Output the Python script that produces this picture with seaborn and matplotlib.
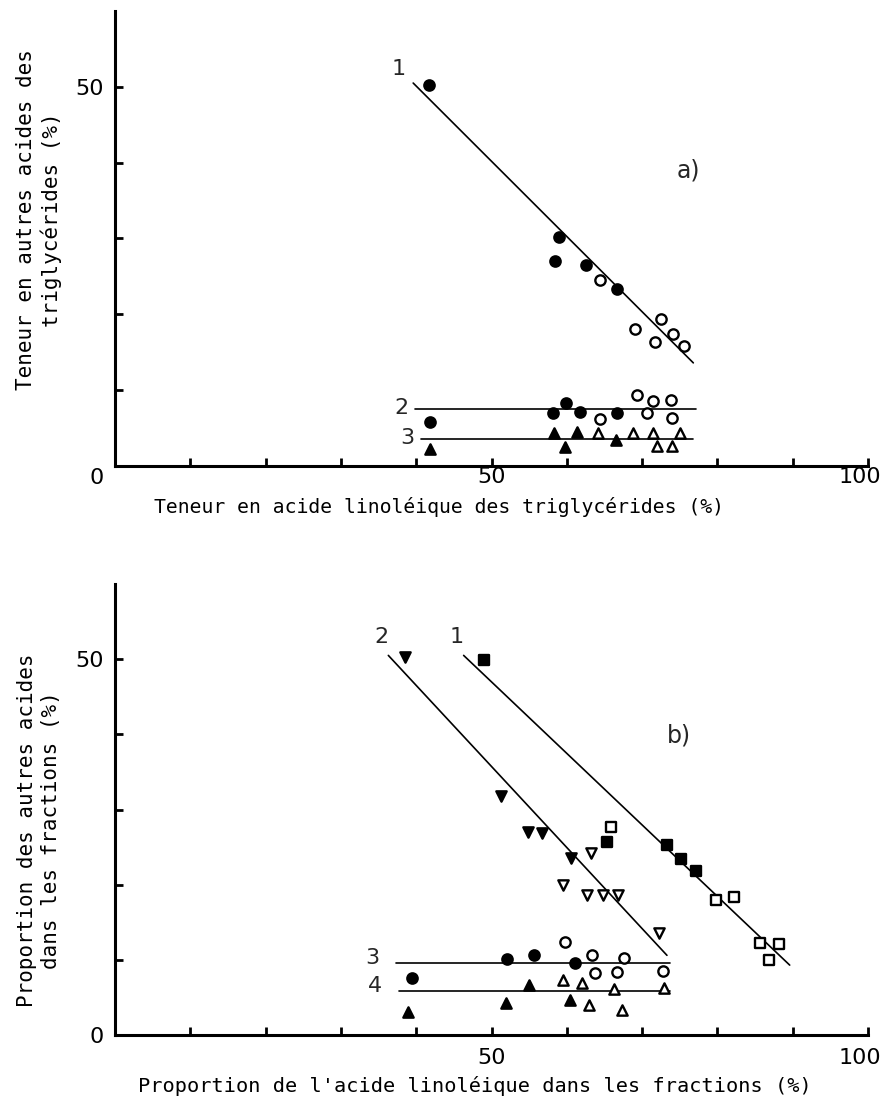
import matplotlib
matplotlib.use("Agg")
import matplotlib.pyplot as plt
import matplotlib.transforms as mtransforms
import seaborn as sns
import pandas as pd

# ---------------- data: panel a ----------------
a_g1_filled_x = [41.7, 59.0, 58.4, 62.5, 66.7]
a_g1_filled_y = [50.3, 30.2, 27.0, 26.5, 23.4]
a_g1_open_x = [64.4, 69.1, 72.5, 71.7, 74.1, 75.6]
a_g1_open_y = [24.5, 18.1, 19.4, 16.4, 17.4, 15.8]
a_g2_filled_x = [41.8, 58.2, 59.9, 61.8, 66.7]
a_g2_filled_y = [5.8, 7.0, 8.3, 7.1, 7.0]
a_g2_open_x = [64.4, 69.3, 71.4, 73.8, 70.7, 74.0]
a_g2_open_y = [6.2, 9.4, 8.6, 8.7, 7.0, 6.3]
a_g3_filled_x = [41.8, 58.3, 59.8, 61.4, 66.5]
a_g3_filled_y = [2.2, 4.4, 2.5, 4.5, 3.4]
a_g3_open_x = [64.1, 68.8, 71.4, 75.0, 72.0, 74.0]
a_g3_open_y = [4.4, 4.4, 4.4, 4.4, 2.6, 2.6]
a_line_labels = ["1", "2", "3"]
a_line_x = [[39.6, 76.8], [39.8, 77.2], [40.6, 76.8]]
a_line_y = [[50.5, 13.6], [7.5, 7.5], [3.6, 3.6]]

# ---------------- data: panel b ----------------
b_g1_filled_x = [49.0, 65.3, 73.3, 75.2, 77.2]
b_g1_filled_y = [49.9, 25.7, 25.3, 23.4, 21.8]
b_g1_open_x = [65.9, 79.8, 82.2, 85.7, 86.9, 88.2]
b_g1_open_y = [27.7, 18.0, 18.4, 12.2, 10.0, 12.1]
b_g2_filled_x = [38.5, 51.3, 54.9, 56.7, 60.6]
b_g2_filled_y = [50.3, 31.8, 27.0, 26.9, 23.5]
b_g2_open_x = [63.2, 59.5, 62.7, 64.8, 66.8, 72.2]
b_g2_open_y = [24.2, 19.9, 18.6, 18.6, 18.6, 13.6]
b_g3_filled_x = [39.4, 52.1, 55.6, 61.1]
b_g3_filled_y = [7.6, 10.1, 10.6, 9.6]
b_g3_open_x = [59.8, 63.3, 67.6, 63.7, 66.7, 72.8]
b_g3_open_y = [12.4, 10.6, 10.2, 8.2, 8.4, 8.5]
b_g4_filled_x = [38.9, 51.9, 55.0, 60.4]
b_g4_filled_y = [3.1, 4.2, 6.6, 4.7]
b_g4_open_x = [59.5, 62.0, 66.3, 72.9, 62.9, 67.3]
b_g4_open_y = [7.3, 6.9, 6.1, 6.2, 4.0, 3.3]
b_line_labels = ["1", "2", "3", "4"]
b_line_x = [[46.3, 89.6], [36.3, 73.3], [37.3, 73.7], [37.7, 73.7]]
b_line_y = [[50.5, 9.3], [50.5, 10.6], [9.6, 9.6], [5.9, 5.9]]

x_ticks = [0, 10, 20, 30, 40, 50, 60, 70, 80, 90, 100]
x_ticklabels = ["", "", "", "", "", "50", "", "", "", "", "100"]
y_ticks = [0, 10, 20, 30, 40, 50]
y_ticklabels = ["0", "", "", "", "", "50"]

a_xlabel = "Teneur en acide linoléique des triglycérides (%)"
a_ylabel = "Teneur en autres acides des\ntriglycérides (%)"
b_xlabel = "Proportion de l'acide linoléique dans les fractions (%)"
b_ylabel = "Proportion des autres acides\ndans les fractions (%)"

sns.set_theme(style="white")
plt.rcParams["font.family"] = ["DejaVu Sans Mono", "DejaVu Sans"]

fig = plt.figure(figsize=(8.85, 11.06), dpi=100)
ax_a = fig.add_axes([115 / 885, 1 - 466 / 1106, 753 / 885, 455 / 1106])
ax_b = fig.add_axes([115 / 885, 1 - 1035 / 1106, 753 / 885, 451 / 1106])


def scatter(ax, xs, ys, marker, filled, size=55):
    df = pd.DataFrame({"x": xs, "y": ys})
    sns.scatterplot(data=df, x="x", y="y", ax=ax, marker=marker, s=size,
                    color="black" if filled else "white",
                    edgecolor="black", linewidth=1.7, zorder=3, legend=False)


def lines(ax, lx, ly, labels, h_off, s_off):
    for xs, ys, lab in zip(lx, ly, labels):
        df = pd.DataFrame({"x": xs, "y": ys})
        sns.lineplot(data=df, x="x", y="y", ax=ax, color="black",
                     linewidth=1.2, sort=False, zorder=2)
        if ys[0] == ys[1]:
            ax.text(xs[0] - h_off[0], ys[0] + h_off[1], lab, ha="right",
                    va="center", fontsize=16, fontfamily="DejaVu Sans")
        else:
            ax.text(xs[0] - s_off[0], ys[0] + s_off[1], lab, ha="right",
                    va="bottom", fontsize=16, fontfamily="DejaVu Sans")


# panel a
lines(ax_a, a_line_x, a_line_y, a_line_labels, (0.8, 0.1), (1.0, 0.5))
scatter(ax_a, a_g1_filled_x, a_g1_filled_y, "o", True)
scatter(ax_a, a_g1_open_x, a_g1_open_y, "o", False)
scatter(ax_a, a_g2_filled_x, a_g2_filled_y, "o", True)
scatter(ax_a, a_g2_open_x, a_g2_open_y, "o", False)
scatter(ax_a, a_g3_filled_x, a_g3_filled_y, "^", True)
scatter(ax_a, a_g3_open_x, a_g3_open_y, "^", False)
ax_a.text(76.2, 39.0, "a)", fontsize=17, fontfamily="DejaVu Sans",
          ha="center", va="center")

# panel b
lines(ax_b, b_line_x, b_line_y, b_line_labels, (2.2, 0.6), (0.0, 1.1))
scatter(ax_b, b_g1_filled_x, b_g1_filled_y, "s", True, 60)
scatter(ax_b, b_g1_open_x, b_g1_open_y, "s", False, 60)
scatter(ax_b, b_g2_filled_x, b_g2_filled_y, "v", True)
scatter(ax_b, b_g2_open_x, b_g2_open_y, "v", False)
scatter(ax_b, b_g3_filled_x, b_g3_filled_y, "o", True)
scatter(ax_b, b_g3_open_x, b_g3_open_y, "o", False)
scatter(ax_b, b_g4_filled_x, b_g4_filled_y, "^", True)
scatter(ax_b, b_g4_open_x, b_g4_open_y, "^", False)
ax_b.text(74.9, 39.9, "b)", fontsize=17, fontfamily="DejaVu Sans",
          ha="center", va="center")

settings = [
    # ax, xlabel, ylabel, x pad, xlabel pos, ylabel pos, xlabel size
    (ax_a, a_xlabel, a_ylabel, 1, (0.430, -0.068), (-0.101, 0.541), 14.2),
    (ax_b, b_xlabel, b_ylabel, 9, (0.478, -0.092), (-0.101, 0.455), 14.6),
]
for ax, xl, yl, xpad, xlpos, ylpos, xls in settings:
    ax.set_xlim(0, 100)
    ax.set_ylim(0, 60)
    ax.set_xticks(x_ticks)
    ax.set_xticklabels(x_ticklabels)
    ax.set_yticks(y_ticks)
    ax.set_yticklabels(y_ticklabels)
    ax.tick_params(direction="in", length=6, width=2, color="black",
                   labelsize=16, labelcolor="black")
    ax.tick_params(axis="x", pad=xpad, bottom=True)
    ax.tick_params(axis="y", pad=8, left=True)
    for t in ax.get_xticklabels() + ax.get_yticklabels():
        t.set_fontfamily("DejaVu Sans")
    ax.set_xlabel(xl, fontsize=xls, color="black")
    ax.xaxis.set_label_coords(*xlpos)
    ax.set_ylabel(yl, fontsize=15, color="black", linespacing=1.25)
    ax.yaxis.set_label_coords(*ylpos)
    ax.yaxis.label.set_verticalalignment("center")
    sns.despine(ax=ax)
    for sp in ["left", "bottom"]:
        ax.spines[sp].set_linewidth(2.2)
        ax.spines[sp].set_color("black")
    ax.set_facecolor("white")

    # nudge the "100" label left so that it stays inside the figure
    lab100 = ax.get_xticklabels()[-1]
    lab100.set_transform(lab100.get_transform() + mtransforms.ScaledTranslation(
        -8 / 100, 0, fig.dpi_scale_trans))

# the "0" of panel a sits slightly below the corner
lab0 = ax_a.get_yticklabels()[0]
lab0.set_transform(lab0.get_transform() + mtransforms.ScaledTranslation(
    0, -10 / 100, fig.dpi_scale_trans))

fig.savefig("out.png", dpi=100, facecolor="white")
